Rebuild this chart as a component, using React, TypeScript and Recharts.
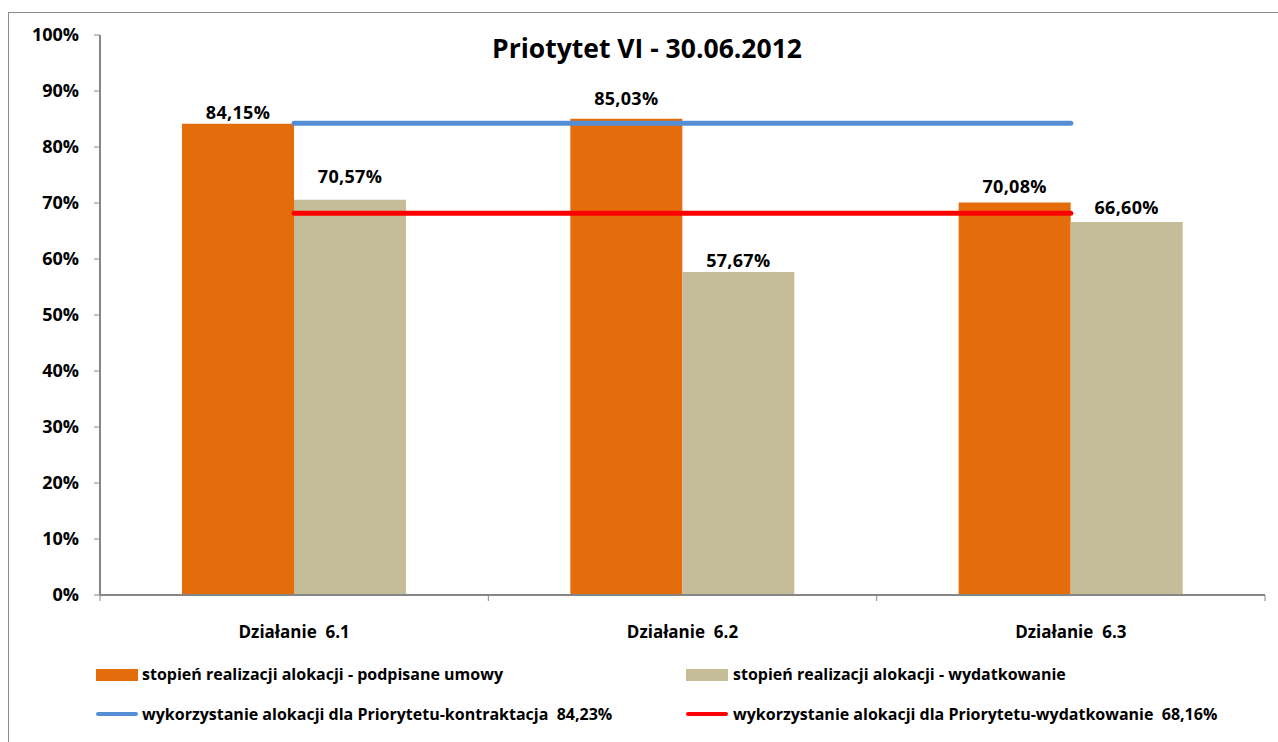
import { ComposedChart, Bar, Line, XAxis, YAxis, LabelList } from 'recharts';

const categories = ['Działanie\u00a0\u00a06.1', 'Działanie\u00a0\u00a06.2', 'Działanie\u00a0\u00a06.3'];
const podpisane = [84.15, 85.03, 70.08];
const wydatkowanie = [70.57, 57.67, 66.6];
const kontraktacjaPriorytet = 84.23;
const wydatkowaniePriorytet = 68.16;
const yTicks = [0, 10, 20, 30, 40, 50, 60, 70, 80, 90, 100];

const seriesNames = {
  podpisane: 'stopień realizacji alokacji - podpisane umowy',
  wydatkowanie: 'stopień realizacji alokacji - wydatkowanie',
  kontr: 'wykorzystanie alokacji dla Priorytetu-kontraktacja\u00a0\u00a084,23%',
  wyd: 'wykorzystanie alokacji dla Priorytetu-wydatkowanie\u00a0\u00a068,16%',
};

// label gaps above the bar tops (the original labels were nudged by hand)
const podpisaneGap = [5, 14, 10];
const wydatkowanieGap = [17, 5, 8];

const ORANGE = '#E46C0A';
const TAN = '#C4BD97';
const BLUE = '#558ED5';
const RED = '#FF0000';
const AXIS = '#868686';
const FONT = '"Open Sans", Lato, sans-serif';

const data = categories.map((name, i) => ({
  name,
  podpisane: podpisane[i],
  wydatkowanie: wydatkowanie[i],
  kontr: kontraktacjaPriorytet,
  wyd: wydatkowaniePriorytet,
}));

const fmt = (v: number) => `${v.toFixed(2).replace('.', ',')}%`;

const makeLabel = (gaps: number[]) => (props: any) => {
  const { x, y, width, value, index } = props;
  return (
    <text
      x={Number(x) + Number(width) / 2}
      y={Number(y) - gaps[index]}
      textAnchor="middle"
      fontFamily={FONT}
      fontWeight={700}
      fontSize={18}
      letterSpacing={0.3}
      fill="#000"
    >
      {fmt(Number(value))}
    </text>
  );
};

const CategoryTick = (props: any) => {
  const { x, y, payload, index } = props;
  const half = payload?.offset ?? 194;
  return (
    <g>
      <line x1={x - half} x2={x - half} y1={y} y2={y + 6} stroke={AXIS} />
      {index === categories.length - 1 && (
        <line x1={x + half} x2={x + half} y1={y} y2={y + 6} stroke={AXIS} />
      )}
      <text x={x} y={y + 43} textAnchor="middle" fontFamily={FONT} fontWeight={700} fontSize={17} fill="#000">
        {payload.value}
      </text>
    </g>
  );
};

export default function App() {
  return (
    <div
      style={{
        position: 'absolute',
        left: 0,
        top: 0,
        width: 1278,
        height: 742,
        overflow: 'hidden',
        background: '#fff',
        fontFamily: FONT,
      }}
    >
      <div
        style={{
          position: 'absolute',
          left: 8,
          top: 12,
          width: 1300,
          height: 800,
          border: '1px solid #8c8c8c',
        }}
      />
      <div
        style={{
          position: 'absolute',
          left: 8,
          top: 30,
          width: 1278,
          textAlign: 'center',
          fontSize: 26.5,
          fontWeight: 700,
          color: '#000',
        }}
      >
        Priotytet VI - 30.06.2012
      </div>
      <div style={{ position: 'absolute', left: 0, top: 0 }}>
        <ComposedChart
          width={1278}
          height={742}
          data={data}
          margin={{ top: 35, right: 13, left: 8, bottom: 117 }}
          barGap={0}
        >
          <XAxis
            dataKey="name"
            height={30}
            tickLine={false}
            tickSize={0}
            tickMargin={0}
            axisLine={{ stroke: AXIS, strokeWidth: 2 }}
            tick={<CategoryTick />}
            interval={0}
          />
          <YAxis
            width={92}
            domain={[0, 100]}
            ticks={yTicks}
            tickFormatter={(v: number) => `${v}%`}
            axisLine={{ stroke: AXIS, strokeWidth: 2 }}
            tickLine={{ stroke: AXIS }}
            tickSize={6}
            tickMargin={15}
            tick={{ fill: '#000', fontSize: 18, fontWeight: 700, fontFamily: FONT }}
          />
          <Bar dataKey="podpisane" fill={ORANGE} barSize={112} isAnimationActive={false}>
            <LabelList dataKey="podpisane" content={makeLabel(podpisaneGap)} />
          </Bar>
          <Bar dataKey="wydatkowanie" fill={TAN} barSize={112} isAnimationActive={false}>
            <LabelList dataKey="wydatkowanie" content={makeLabel(wydatkowanieGap)} />
          </Bar>
          <Line
            type="linear"
            dataKey="kontr"
            stroke={BLUE}
            strokeWidth={5}
            strokeLinecap="round"
            dot={false}
            activeDot={false}
            isAnimationActive={false}
          />
          <Line
            type="linear"
            dataKey="wyd"
            stroke={RED}
            strokeWidth={5}
            strokeLinecap="round"
            dot={false}
            activeDot={false}
            isAnimationActive={false}
          />
        </ComposedChart>
      </div>
      {/* Legend */}
      <div style={{ position: 'absolute', left: 0, top: 0, fontSize: 16, fontWeight: 700, color: '#000' }}>
        <div style={{ position: 'absolute', left: 96, top: 669, width: 42, height: 12, background: ORANGE }} />
        <div style={{ position: 'absolute', left: 142, top: 663, whiteSpace: 'nowrap' }}>{seriesNames.podpisane}</div>
        <div style={{ position: 'absolute', left: 686, top: 669, width: 42, height: 12, background: TAN }} />
        <div style={{ position: 'absolute', left: 733, top: 663, whiteSpace: 'nowrap' }}>{seriesNames.wydatkowanie}</div>
        <div style={{ position: 'absolute', left: 96, top: 712, width: 42, height: 4, borderRadius: 2, background: BLUE }} />
        <div style={{ position: 'absolute', left: 142, top: 703, whiteSpace: 'nowrap' }}>{seriesNames.kontr}</div>
        <div style={{ position: 'absolute', left: 686, top: 712, width: 42, height: 4, borderRadius: 2, background: RED }} />
        <div style={{ position: 'absolute', left: 733, top: 703, whiteSpace: 'nowrap' }}>{seriesNames.wyd}</div>
      </div>
    </div>
  );
}
